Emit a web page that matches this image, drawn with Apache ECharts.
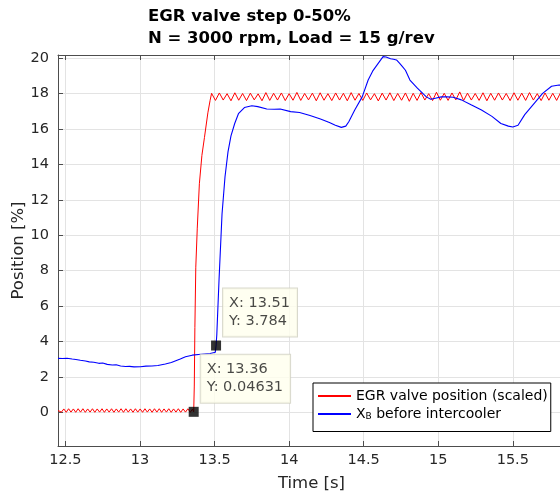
<!DOCTYPE html>
<html>
<head>
<meta charset="utf-8">
<script src="https://cdn.jsdelivr.net/npm/echarts@6/dist/echarts.min.js"></script>
<style>
  html, body { margin: 0; padding: 0; background: #ffffff; }
  #chart { width: 560px; height: 499px; }
</style>
</head>
<body>
<div id="chart"></div>
<script>
// Titles and names
const titleLines = ['EGR valve step 0-50%', 'N = 3000 rpm, Load = 15 g/rev'];
const seriesNames = ['EGR valve position (scaled)', 'X_B before intercooler'];
const xAxisName = 'Time [s]';
const yAxisName = 'Position [%]';

// Axis ranges [s] and [%]
const timeRange = [12.45, 15.85];
const positionRange = [-1.88, 20.16];

// EGR valve position (scaled), [time, position]
const egrValve = [
  [12.450, 0.12], [12.457, 0.22], [12.473, 0.03], [12.489, 0.21], [12.505, 0.02],
  [12.521, 0.22], [12.537, 0.03], [12.553, 0.21], [12.569, 0.02], [12.585, 0.22],
  [12.601, 0.03], [12.617, 0.22], [12.633, 0.02], [12.649, 0.21], [12.665, 0.03],
  [12.681, 0.22], [12.697, 0.02], [12.713, 0.21], [12.729, 0.03], [12.745, 0.22],
  [12.761, 0.02], [12.777, 0.21], [12.793, 0.03], [12.809, 0.22], [12.825, 0.02],
  [12.841, 0.21], [12.857, 0.03], [12.873, 0.22], [12.889, 0.02], [12.905, 0.22],
  [12.921, 0.03], [12.937, 0.21], [12.953, 0.02], [12.969, 0.22], [12.985, 0.03],
  [13.001, 0.21], [13.017, 0.02], [13.033, 0.22], [13.049, 0.03], [13.065, 0.21],
  [13.081, 0.02], [13.097, 0.22], [13.113, 0.03], [13.129, 0.22], [13.145, 0.02],
  [13.161, 0.21], [13.177, 0.03], [13.193, 0.22], [13.209, 0.02], [13.225, 0.21],
  [13.241, 0.03], [13.257, 0.22], [13.273, 0.02], [13.289, 0.21], [13.305, 0.03],
  [13.321, 0.22], [13.337, 0.02], [13.352, 0.20], [13.360, 0.04631],
  [13.364, 1.5], [13.368, 4.8], [13.374, 8.2], [13.384, 10.4], [13.398, 12.9],
  [13.415, 14.5], [13.432, 15.5], [13.455, 16.9], [13.470, 17.6], [13.480, 18.0],
  [13.506, 17.60], [13.532, 18.02], [13.558, 17.62], [13.584, 17.98], [13.610, 17.58],
  [13.636, 18.03], [13.662, 17.61], [13.688, 17.99], [13.714, 17.59], [13.740, 18.01],
  [13.766, 17.63], [13.792, 17.97], [13.818, 17.58], [13.844, 18.04], [13.870, 17.60],
  [13.896, 18.00], [13.922, 17.62], [13.948, 18.02], [13.974, 17.59], [14.000, 17.98],
  [14.026, 17.61], [14.052, 18.05], [14.078, 17.60], [14.104, 17.99], [14.130, 17.63],
  [14.156, 18.01], [14.182, 17.58], [14.208, 18.03], [14.234, 17.61], [14.260, 17.98],
  [14.286, 17.59], [14.312, 18.02], [14.338, 17.62], [14.364, 18.00], [14.390, 17.58],
  [14.416, 18.04], [14.442, 17.61], [14.468, 17.99], [14.494, 17.60], [14.520, 18.02],
  [14.546, 17.63], [14.572, 17.98], [14.598, 17.57], [14.624, 18.01], [14.650, 17.62],
  [14.676, 18.03], [14.702, 17.59], [14.728, 17.99], [14.754, 17.61], [14.780, 18.02],
  [14.806, 17.55], [14.832, 18.00], [14.858, 17.60], [14.884, 18.04], [14.910, 17.62],
  [14.936, 17.98], [14.962, 17.59], [14.988, 18.06], [15.014, 17.61], [15.040, 18.00],
  [15.066, 17.60], [15.092, 18.02], [15.118, 17.63], [15.144, 18.08], [15.170, 17.59],
  [15.196, 18.01], [15.222, 17.62], [15.248, 17.99], [15.274, 17.60], [15.300, 18.03],
  [15.326, 17.58], [15.352, 18.00], [15.378, 17.61], [15.404, 18.02], [15.430, 17.62],
  [15.456, 17.99], [15.482, 17.59], [15.508, 18.03], [15.534, 17.61], [15.560, 18.01],
  [15.586, 17.60], [15.612, 18.04], [15.638, 17.62], [15.664, 17.98], [15.690, 17.59],
  [15.716, 18.02], [15.742, 17.61], [15.768, 18.00], [15.794, 17.60], [15.820, 18.03],
  [15.846, 17.62], [15.872, 17.99]
];

// X_B before intercooler, [time, position]
const xbIntercooler = [
  [12.450, 3.06], [12.480, 3.05], [12.510, 3.07], [12.545, 3.02], [12.570, 3.00],
  [12.600, 2.95], [12.634, 2.91], [12.660, 2.86], [12.690, 2.84], [12.724, 2.78],
  [12.750, 2.80], [12.780, 2.72], [12.814, 2.69], [12.840, 2.70], [12.870, 2.63],
  [12.903, 2.60], [12.930, 2.61], [12.960, 2.58], [13.003, 2.59], [13.040, 2.62],
  [13.080, 2.63], [13.120, 2.66], [13.170, 2.74], [13.210, 2.83], [13.240, 2.93],
  [13.270, 3.03], [13.305, 3.15], [13.350, 3.24], [13.410, 3.29], [13.470, 3.33],
  [13.505, 3.40], [13.510, 3.784], [13.515, 4.4], [13.530, 7.5], [13.550, 11.2],
  [13.570, 13.3], [13.590, 14.7], [13.610, 15.6], [13.635, 16.3], [13.660, 16.85],
  [13.700, 17.20], [13.750, 17.30], [13.790, 17.25], [13.850, 17.12], [13.900, 17.10],
  [13.940, 17.12], [14.010, 16.97], [14.070, 16.92], [14.140, 16.75], [14.210, 16.55],
  [14.270, 16.35], [14.310, 16.20], [14.350, 16.08], [14.380, 16.15], [14.400, 16.40],
  [14.440, 17.06], [14.490, 17.80], [14.530, 18.75], [14.560, 19.25], [14.590, 19.60],
  [14.630, 20.07], [14.650, 20.05], [14.680, 19.95], [14.700, 19.92], [14.720, 19.88],
  [14.740, 19.70], [14.760, 19.50], [14.780, 19.30], [14.810, 18.75], [14.860, 18.29],
  [14.920, 17.80], [14.950, 17.67], [14.980, 17.72], [15.020, 17.80], [15.060, 17.80],
  [15.100, 17.78], [15.155, 17.63], [15.220, 17.35], [15.290, 17.06], [15.360, 16.70],
  [15.420, 16.30], [15.470, 16.15], [15.500, 16.10], [15.535, 16.20], [15.580, 16.80],
  [15.645, 17.45], [15.700, 18.00], [15.760, 18.40], [15.810, 18.47], [15.850, 18.40]
];

// Data tips
const tipTimes = [13.36, 13.51];
const tipValues = [0.04631, 3.784];

const FONT = 'DejaVu Sans';
const INK = '#262626';

const chart = echarts.init(document.getElementById('chart'), null, { renderer: 'canvas' });

const hiddenEdges = { showMinLabel: false, showMaxLabel: false };

chart.setOption({
  animation: false,
  backgroundColor: '#ffffff',
  title: {
    text: titleLines.join('\n'),
    left: 148,
    top: 5,
    padding: 0,
    textAlign: 'left',
    textStyle: { fontFamily: FONT, fontSize: 16.5, fontWeight: 'bold', color: '#000000', lineHeight: 22.5 }
  },
  legend: {
    data: seriesNames,
    orient: 'vertical',
    left: 313,
    top: 383,
    padding: [6, 3, 10, 4],
    itemGap: 4,
    itemWidth: 33,
    itemHeight: 15,
    backgroundColor: '#ffffff',
    borderColor: '#000000',
    borderWidth: 1,
    borderRadius: 0,
    selectedMode: false,
    itemStyle: { color: 'transparent', borderWidth: 0, opacity: 0 },
    formatter: function (name) {
      if (name === seriesNames[1]) {
        return '{n|X}{s|B}{n| before intercooler}';
      }
      return '{n|' + name + '}';
    },
    textStyle: {
      fontFamily: FONT,
      color: '#000000',
      rich: {
        n: { fontFamily: FONT, fontSize: 14, lineHeight: 15, color: '#000000' },
        s: { fontFamily: FONT, fontSize: 9, lineHeight: 1, padding: [3, 0, 0, 0], verticalAlign: 'bottom', color: '#000000' }
      }
    }
  },
  grid: {
    left: 58,
    top: 55,
    right: -5,
    bottom: 53,
    outerBoundsMode: 'none',
    containLabel: false
  },
  xAxis: [
    {
      type: 'value',
      position: 'bottom',
      min: timeRange[0],
      max: timeRange[1],
      splitNumber: 6,
      name: xAxisName,
      nameLocation: 'middle',
      nameGap: 29,
      nameMoveOverlap: false,
      nameTextStyle: { fontFamily: FONT, fontSize: 16.5, color: INK },
      axisLine: { show: true, onZero: false, lineStyle: { color: '#4d4d4d', width: 1 } },
      axisTick: { show: true, inside: true, length: 5, lineStyle: { color: '#4d4d4d' } },
      axisLabel: Object.assign({ fontFamily: FONT, fontSize: 14.5, color: INK, margin: 7 }, hiddenEdges),
      splitLine: { show: true, lineStyle: { color: '#e3e3e3', width: 1 } }
    },
    {
      type: 'value',
      position: 'top',
      min: timeRange[0],
      max: timeRange[1],
      splitNumber: 6,
      axisLine: { show: true, onZero: false, lineStyle: { color: '#4d4d4d', width: 1 } },
      axisTick: { show: true, inside: true, length: 5, lineStyle: { color: '#4d4d4d' } },
      axisLabel: { show: false },
      splitLine: { show: false }
    }
  ],
  yAxis: {
    type: 'value',
    min: positionRange[0],
    max: positionRange[1],
    splitNumber: 10,
    name: yAxisName,
    nameLocation: 'middle',
    nameGap: 31,
    nameMoveOverlap: false,
    nameTextStyle: { fontFamily: FONT, fontSize: 16.5, color: INK },
    axisLine: { show: true, onZero: false, lineStyle: { color: '#4d4d4d', width: 1 } },
    axisTick: { show: true, inside: true, length: 5, lineStyle: { color: '#4d4d4d' } },
    axisLabel: Object.assign({ fontFamily: FONT, fontSize: 14.5, color: INK, margin: 9 }, hiddenEdges),
    splitLine: { show: true, lineStyle: { color: '#e3e3e3', width: 1 } }
  },
  series: [
    {
      name: seriesNames[0],
      type: 'line',
      data: egrValve,
      showSymbol: false,
      symbol: 'none',
      clip: true,
      lineStyle: { color: '#ff0000', width: 1 },
      itemStyle: { color: '#ff0000' },
      z: 2
    },
    {
      name: seriesNames[1],
      type: 'line',
      data: xbIntercooler,
      showSymbol: false,
      symbol: 'none',
      clip: true,
      lineStyle: { color: '#0000ff', width: 1.1 },
      itemStyle: { color: '#0000ff' },
      z: 3
    },
    {
      name: 'tips',
      type: 'scatter',
      data: tipTimes.map((t, i) => [t, tipValues[i]]),
      symbol: 'rect',
      symbolSize: 10,
      itemStyle: { color: '#000000' },
      z: 10,
      label: {
        show: true,
        position: [12, -52],
        formatter: p => 'X: ' + p.value[0] + '\nY: ' + p.value[1],
        fontFamily: FONT,
        fontSize: 14.5,
        lineHeight: 18.5,
        color: '#1a1a1a',
        backgroundColor: '#ffffee',
        borderColor: '#cfcfc0',
        borderWidth: 1,
        padding: [5, 7, 6, 6]
      }
    }
  ]
});
</script>
</body>
</html>
